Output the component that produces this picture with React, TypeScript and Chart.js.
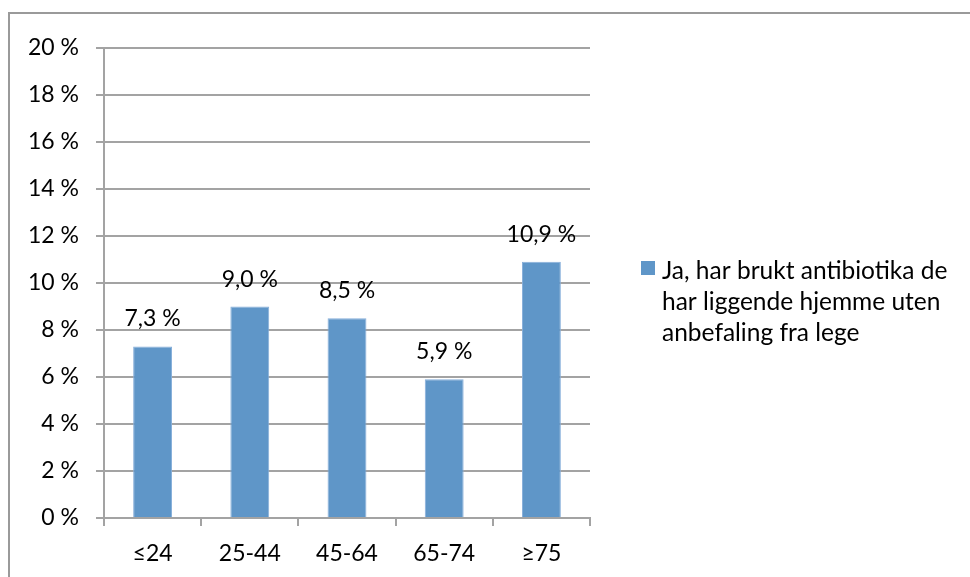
import React, { useEffect, useRef } from "react";
import { Chart, registerables } from "chart.js";

Chart.register(...registerables);

const categories = ["≤24", "25-44", "45-64", "65-74", "≥75"];
const values = [7.3, 9.0, 8.5, 5.9, 10.9];
const seriesLabel = "Ja, har brukt antibiotika de har liggende hjemme uten anbefaling fra lege";
const yTicks = [0, 2, 4, 6, 8, 10, 12, 14, 16, 18, 20];

const FONT = "Lato, 'Open Sans', sans-serif";
const FONT_SIZE = 23;
const LEGEND_FONT_SIZE = 24.5;
const BAR_COLOR = "#5F96C8";
const GRID_COLOR = "#A3A3A3";

const fmt = (v: number) => v.toFixed(1).replace(".", ",") + " %";

// Outer frame around the whole chart
const framePlugin = {
  id: "frame",
  beforeDraw(chart: any) {
    const ctx = chart.ctx;
    ctx.save();
    ctx.fillStyle = "#ffffff";
    ctx.fillRect(0, 0, chart.width, chart.height);
    ctx.strokeStyle = "#9A9A9A";
    ctx.lineWidth = 2;
    ctx.beginPath();
    ctx.moveTo(9, chart.height + 10);
    ctx.lineTo(9, 13);
    ctx.lineTo(chart.width + 10, 13);
    ctx.stroke();
    ctx.restore();
  },
};

// Value labels above each bar
const valueLabelPlugin = {
  id: "valueLabels",
  afterDatasetsDraw(chart: any) {
    const ctx = chart.ctx;
    const meta = chart.getDatasetMeta(0);
    ctx.save();
    ctx.font = `${FONT_SIZE}px ${FONT}`;
    ctx.fillStyle = "#000";
    ctx.textAlign = "center";
    ctx.textBaseline = "alphabetic";
    meta.data.forEach((bar: any, i: number) => {
      const v = chart.data.datasets[0].data[i] as number;
      ctx.fillText(fmt(v), bar.x, bar.y - 20);
    });
    ctx.restore();
  },
};

// Legend on the right with wrapped text
const wrapLegendPlugin = {
  id: "wrapLegend",
  afterDraw(chart: any) {
    const ctx = chart.ctx;
    const ds = chart.data.datasets[0];
    const boxX = 641;
    const boxY = 261;
    const textX = 662;
    const maxW = 300;
    const lineH = 31;
    ctx.save();
    ctx.font = `${LEGEND_FONT_SIZE}px ${FONT}`;
    const words = String(ds.label).split(" ");
    const lines: string[] = [];
    let cur = "";
    words.forEach((w) => {
      const test = cur ? cur + " " + w : w;
      if (ctx.measureText(test).width > maxW && cur) {
        lines.push(cur);
        cur = w;
      } else {
        cur = test;
      }
    });
    if (cur) lines.push(cur);
    ctx.fillStyle = ds.backgroundColor;
    ctx.fillRect(boxX, boxY, 14, 14);
    ctx.fillStyle = "#000";
    ctx.textAlign = "left";
    ctx.textBaseline = "alphabetic";
    lines.forEach((ln, i) => ctx.fillText(ln, textX, 279 + i * lineH));
    ctx.restore();
  },
};

export default function App() {
  const ref = useRef<HTMLCanvasElement | null>(null);

  useEffect(() => {
    if (!ref.current) return;
    const chart = new Chart(ref.current, {
      type: "bar",
      data: {
        labels: categories,
        datasets: [
          {
            label: seriesLabel,
            data: values,
            backgroundColor: BAR_COLOR,
            borderColor: "#86AEDA",
            borderWidth: 1,
            barPercentage: 0.8,
            categoryPercentage: 0.5,
          },
        ],
      },
      options: {
        animation: false,
        responsive: false,
        maintainAspectRatio: false,
        layout: { padding: { top: 48, right: 380, left: 0, bottom: 0 } },
        plugins: {
          legend: { display: false },
          tooltip: { enabled: false },
        },
        scales: {
          x: {
            offset: true,
            grid: {
              offset: true,
              drawOnChartArea: false,
              drawTicks: true,
              tickLength: 8,
              color: GRID_COLOR,
              lineWidth: 2,
            },
            border: { display: true, color: GRID_COLOR, width: 2 },
            ticks: {
              font: { family: FONT, size: FONT_SIZE },
              color: "#000",
              padding: 14,
            },
            afterFit(scale: any) {
              scale.height = 59;
            },
          },
          y: {
            min: 0,
            max: 20,
            afterBuildTicks(scale: any) {
              scale.ticks = yTicks.map((v) => ({ value: v }));
            },
            grid: {
              color: GRID_COLOR,
              lineWidth: 2,
              tickLength: 8,
              drawTicks: true,
            },
            border: { display: true, color: GRID_COLOR, width: 2 },
            ticks: {
              font: { family: FONT, size: FONT_SIZE },
              color: "#000",
              padding: 17,
              callback: (v: any) => `${v} %`,
            },
            afterFit(scale: any) {
              scale.width = 104;
            },
          },
        },
      },
      plugins: [framePlugin, valueLabelPlugin, wrapLegendPlugin],
    });
    return () => chart.destroy();
  }, []);

  return (
    <div style={{ position: "absolute", left: 0, top: 0, width: 970, height: 577 }}>
      <canvas ref={ref} width={970} height={577} style={{ display: "block" }} />
    </div>
  );
}
